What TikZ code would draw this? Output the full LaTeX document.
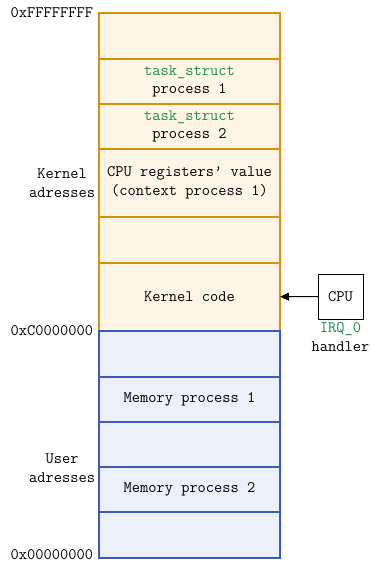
\documentclass[tikz,border=0pt]{standalone}
\usepackage{amsmath}
\usetikzlibrary{positioning,arrows.meta}

\definecolor{kfill}{HTML}{FFF5E6}
\definecolor{kline}{HTML}{D6930A}
\definecolor{ufill}{HTML}{ECF0FB}
\definecolor{uline}{HTML}{3D5BB5}
\definecolor{tgreen}{HTML}{1F8B4C}

\begin{document}
\begin{tikzpicture}[x=1pt,y=-1pt,
    every node/.style={font=\fontsize{16}{18.5}\selectfont\ttfamily,inner sep=0,outer sep=0},
    kcell/.style={draw=kline,fill=kfill,line width=1.7pt,minimum width=181pt,align=center},
    ucell/.style={draw=uline,fill=ufill,line width=1.7pt,minimum width=181pt,align=center},
    addr/.style={anchor=east,align=center}]
      \useasboundingbox (0,0) rectangle (371,563);
      \node[kcell,minimum height=46pt,anchor=north] (k0) at (189.5,13) {};
      \node[kcell,minimum height=45pt,below=0pt of k0] (k1) {\textcolor{tgreen}{task\_struct}\\process 1};
      \node[kcell,minimum height=45pt,below=0pt of k1] (k2) {\textcolor{tgreen}{task\_struct}\\process 2};
      \node[kcell,minimum height=68pt,below=0pt of k2] (k3) {CPU registers\textquoteright{} value\\(context process 1)};
      \node[kcell,minimum height=46pt,below=0pt of k3] (k4) {};
      \node[kcell,minimum height=68pt,below=0pt of k4] (kcode) {Kernel code};
      \node[ucell,minimum height=46pt,below=0pt of kcode] (u0) {};
      \node[ucell,minimum height=45pt,below=0pt of u0] (u1) {Memory process 1};
      \node[ucell,minimum height=45pt,below=0pt of u1] (u2) {};
      \node[ucell,minimum height=45pt,below=0pt of u2] (u3) {Memory process 2};
      \node[ucell,minimum height=46pt,below=0pt of u3] (u4) {};

      \node[addr,left=6pt of k0.north west] (top) {0xFFFFFFFF};
      \node[addr,left=6pt of kcode.south west] (mid) {0xC0000000};
      \node[addr,left=6pt of u4.south west,yshift=3pt] (bot) {0x00000000};
      \node[addr] (klabel) at (95,183) {Kernel\\adresses};
      \node[addr] (ulabel) at (95,468) {User\\adresses};

      \node[draw,line width=0.8pt,minimum size=45pt] (cpu) at (340.5,296.5) {CPU};
      \node[below=4pt of cpu,align=center] (irq) {\textcolor{tgreen}{IRQ\_0}\\handler};
      \draw[line width=0.9pt,-{Triangle[length=9pt,width=8pt]}] (cpu) -- (kcode);
    \end{tikzpicture}
\end{document}
